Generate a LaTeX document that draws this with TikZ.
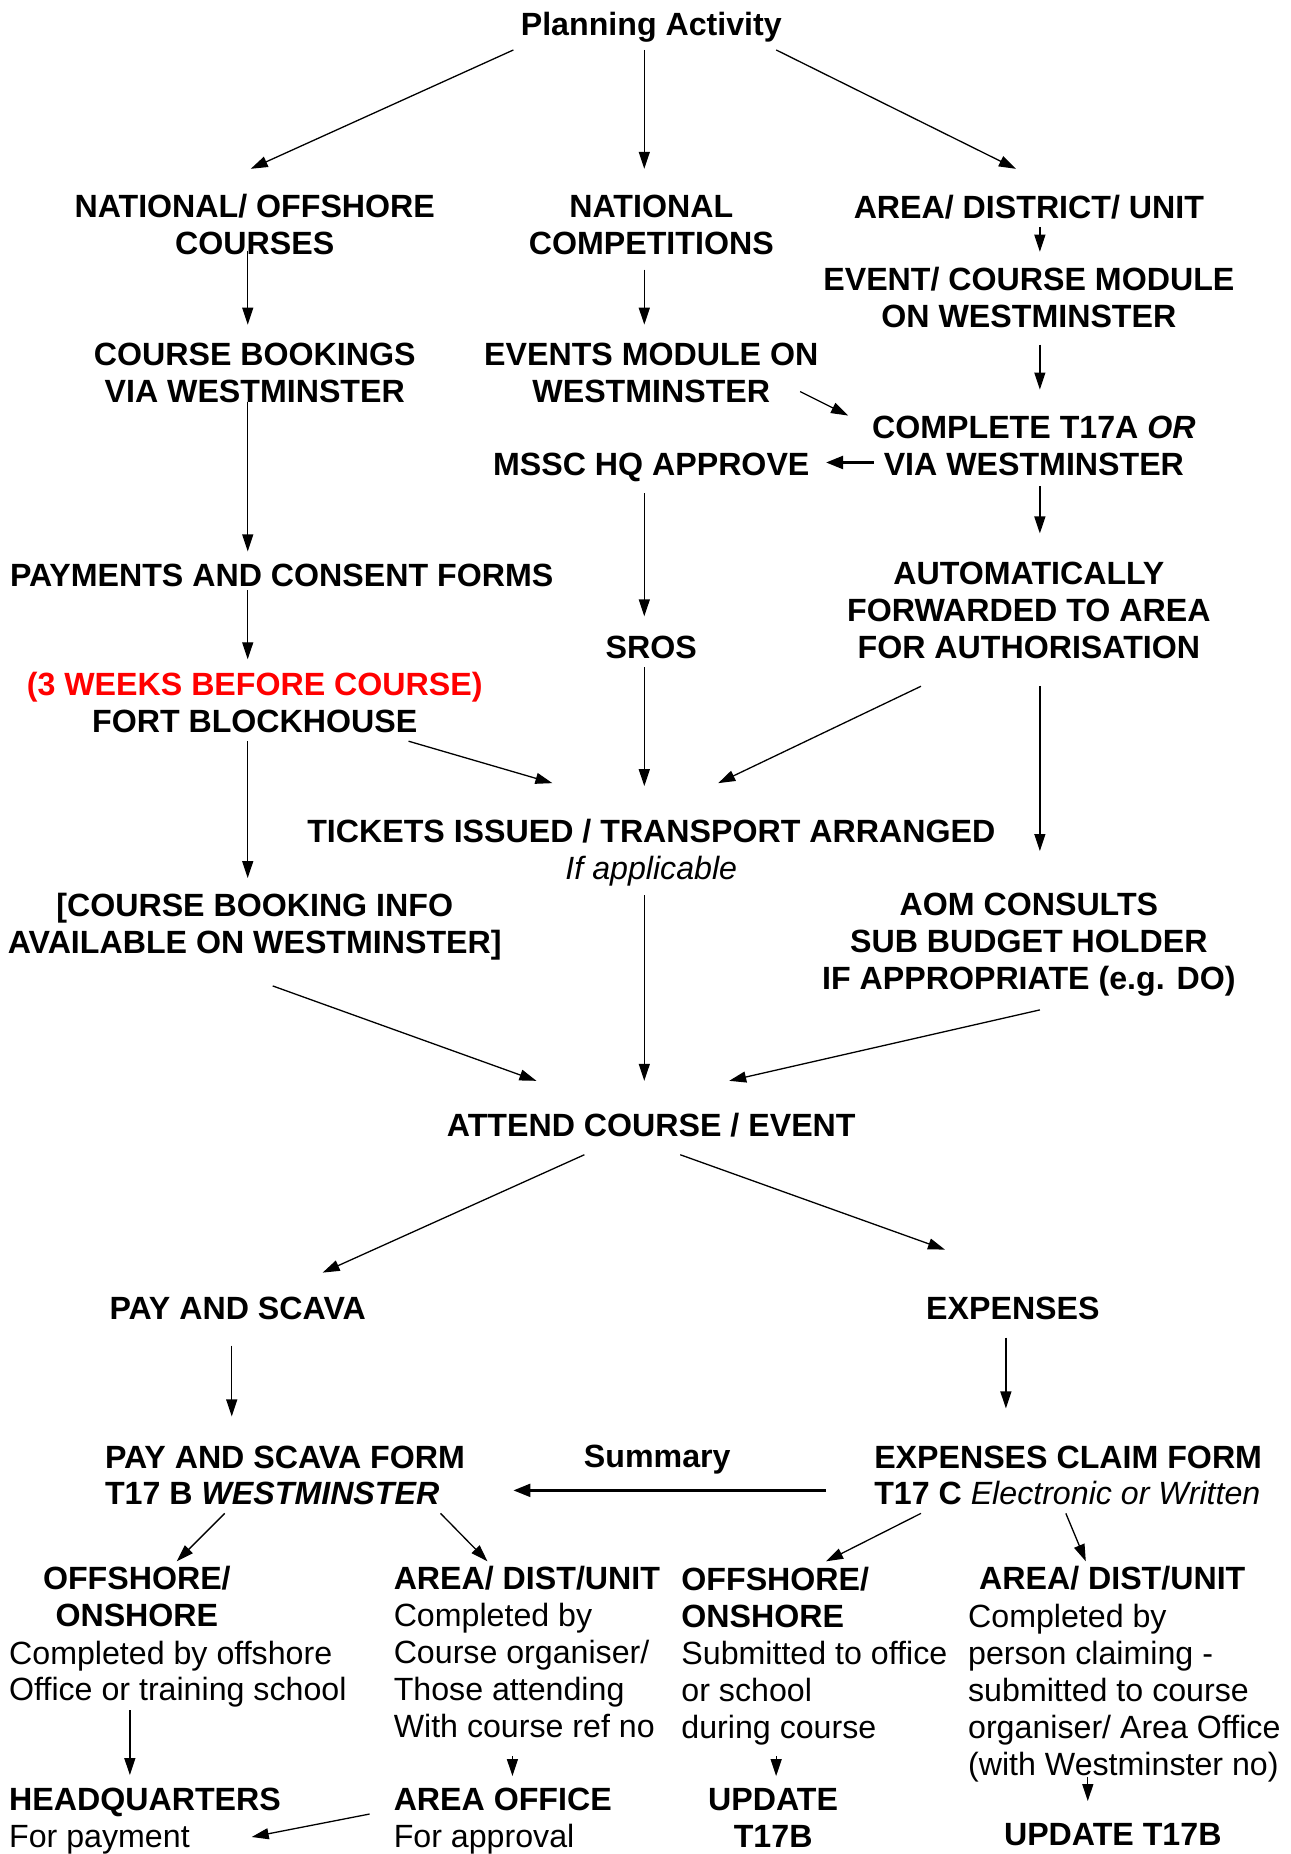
\documentclass[tikz,border=0pt]{standalone}
\usepackage{fontspec}
\setmainfont{Liberation Sans}
\usetikzlibrary{arrows.meta}
\tikzset{
  lbl/.style={font=\fontsize{32.2}{36.9}\selectfont\bfseries, inner sep=0pt, align=center},
  txt/.style={font=\fontsize{32.2}{36.9}\selectfont, inner sep=0pt, align=left, anchor=west},
  arr/.style={line width=1.3pt, -{Triangle[length=17pt,width=11pt]}},
  thk/.style={line width=2.4pt, -{Triangle[length=17pt,width=13pt]}}
}
\begin{document}
\begin{tikzpicture}[x=1pt,y=-1pt]
\fill[white] (0,0) rectangle (1292,1854);
% top part
\node[lbl] (plan) at (652,27) {Planning Activity};
\node[lbl] (natoff) at (255,225) {NATIONAL/ OFFSHORE\\COURSES};
\node[lbl] (natcomp) at (652,225) {NATIONAL\\COMPETITIONS};
\node[lbl] (area) at (1030,207) {AREA/ DISTRICT/ UNIT};
\node[lbl] (event) at (1030,298) {EVENT/ COURSE MODULE\\ON WESTMINSTER};
\node[lbl] (book) at (255,373) {COURSE BOOKINGS\\VIA WESTMINSTER};
\node[lbl] (evmod) at (652,373) {EVENTS MODULE ON\\WESTMINSTER};
\node[lbl] (t17a) at (1035,446) {COMPLETE T17A \textit{OR}\\VIA WESTMINSTER};
\node[lbl] (mssc) at (652,468) {MSSC HQ APPROVE};
\node[lbl] (pay) at (282,576) {PAYMENTS AND CONSENT FORMS};
\node[lbl] (auto) at (1030,611) {AUTOMATICALLY\\FORWARDED TO AREA\\FOR AUTHORISATION};
\node[lbl] (sros) at (652,648) {SROS};
\node[lbl] (fort) at (255,703) {\textcolor{red}{(3 WEEKS BEFORE COURSE)}\\FORT BLOCKHOUSE};
\node[lbl] (tick) at (652,854) {TICKETS ISSUED / TRANSPORT ARRANGED\\\textnormal{\itshape If applicable}};
\node[lbl] (info) at (255,928) {[COURSE BOOKING INFO\\AVAILABLE ON WESTMINSTER]};
\node[lbl] (aom) at (1030,946) {AOM CONSULTS\\SUB BUDGET HOLDER\\IF APPROPRIATE (e.g. DO)};
\node[lbl] (attend) at (652,1126) {ATTEND COURSE / EVENT};
% pay and expenses
\node[lbl] (scava) at (238,1310) {PAY AND SCAVA};
\node[lbl] (exp) at (1014,1310) {EXPENSES};
\node[lbl, align=left, anchor=west] (t17b) at (105,1477) {PAY AND SCAVA FORM\\T17 B \textit{WESTMINSTER}};
\node[lbl] (summ) at (658,1461) {Summary};
\node[lbl, align=left, anchor=west] (t17c) at (875,1477) {EXPENSES CLAIM FORM\\T17 C \textnormal{\itshape Electronic or Written}};
% bottom columns
\node[lbl] (offl) at (137,1598) {OFFSHORE/\\ONSHORE};
\node[txt] (offltx) at (9,1676) {Completed by offshore\\Office or training school};
\node[txt] (hq) at (9,1823) {\textbf{HEADQUARTERS}\\For payment};
\node[txt] (adu1) at (394,1654) {\textbf{AREA/ DIST/UNIT}\\Completed by\\Course organiser/\\Those attending\\With course ref no};
\node[txt] (aoff) at (394,1823) {\textbf{AREA OFFICE}\\For approval};
\node[txt] (offr) at (682,1658) {\textbf{OFFSHORE/}\\\textbf{ONSHORE}\\Submitted to office\\or school\\during course};
\node[lbl] (upd1) at (774,1820) {UPDATE\\T17B};
\node[lbl, anchor=west] (adu2) at (980,1580) {AREA/ DIST/UNIT};
\node[txt] (adu2tx) at (969,1695) {Completed by\\person claiming -\\submitted to course\\organiser/ Area Office\\(with Westminster no)};
\node[lbl] (upd2) at (1114,1837) {UPDATE T17B};
% arrows
\draw[arr] ([shift={(-138,23)}]plan.center) -- ([shift={(-4,-56)}]natoff.center);
\draw[arr] ([shift={(-7,23)}]plan.center) -- ([shift={(-7,-56)}]natcomp.center);
\draw[arr] ([shift={(125,23)}]plan.center) -- ([shift={(-13,-38)}]area.center);
\draw[arr] ([shift={(11,20)}]area.center) -- ([shift={(11,-46)}]event.center);
\draw[arr] ([shift={(-7,26)}]natoff.center) -- ([shift={(-7,-48)}]book.center);
\draw[arr] ([shift={(-7,45)}]natcomp.center) -- ([shift={(-7,-48)}]evmod.center);
\draw[arr] ([shift={(11,47)}]event.center) -- ([shift={(6,-56)}]t17a.center);
\draw[arr] ([shift={(149,19)}]evmod.center) -- ([shift={(-186,-30)}]t17a.center);
\draw[thk] ([shift={(-160,17)}]t17a.center) -- ([shift={(175,-5)}]mssc.center);
\draw[arr] ([shift={(-7,29)}]book.center) -- ([shift={(-34,-24)}]pay.center);
\draw[arr] ([shift={(6,41)}]t17a.center) -- ([shift={(11,-77)}]auto.center);
\draw[arr] ([shift={(-7,26)}]mssc.center) -- ([shift={(-7,-31)}]sros.center);
\draw[arr] ([shift={(-34,15)}]pay.center) -- ([shift={(-7,-43)}]fort.center);
\draw[arr] ([shift={(154,39)}]fort.center) -- ([shift={(-99,-70)}]tick.center);
\draw[arr] ([shift={(-7,20)}]sros.center) -- ([shift={(-7,-67)}]tick.center);
\draw[arr] ([shift={(-108,76)}]auto.center) -- ([shift={(67,-70)}]tick.center);
\draw[arr] ([shift={(11,76)}]auto.center) -- ([shift={(11,-94)}]aom.center);
\draw[arr] ([shift={(-7,39)}]fort.center) -- ([shift={(-7,-49)}]info.center);
\draw[arr] ([shift={(-7,42)}]tick.center) -- ([shift={(-7,-44)}]attend.center);
\draw[arr] ([shift={(18,59)}]info.center) -- ([shift={(-115,-44)}]attend.center);
\draw[arr] ([shift={(11,65)}]aom.center) -- ([shift={(78,-44)}]attend.center);
\draw[arr] ([shift={(-67,30)}]attend.center) -- ([shift={(85,-36)}]scava.center);
\draw[arr] ([shift={(29,30)}]attend.center) -- ([shift={(-68,-59)}]exp.center);
\draw[arr] ([shift={(-6,37)}]scava.center) -- ([shift={(127,-59)}]t17b.west);
\draw[arr] ([shift={(-7,29)}]exp.center) -- ([shift={(132,-67)}]t17c.west);
\draw[thk] ([shift={(-48,15)}]t17c.west) -- ([shift={(409,15)}]t17b.west);
\draw[arr] ([shift={(120,38)}]t17b.west) -- ([shift={(40,-35)}]offl.center);
\draw[arr] ([shift={(336,38)}]t17b.west) -- ([shift={(94,-91)}]adu1.west);
\draw[arr] ([shift={(47,38)}]t17c.west) -- ([shift={(145,-95)}]offr.west);
\draw[arr] ([shift={(192,38)}]t17c.west) -- ([shift={(107,-17)}]adu2.west);
\draw[arr] ([shift={(121,36)}]offltx.west) -- ([shift={(121,-46)}]hq.west);
\draw[arr] ([shift={(119,104)}]adu1.west) -- ([shift={(119,-45)}]aoff.west);
\draw[arr] ([shift={(-24,-7)}]aoff.west) -- ([shift={(243,16)}]hq.west);
\draw[arr] ([shift={(95,100)}]offr.west) -- ([shift={(3,-42)}]upd1.center);
\draw[arr] ([shift={(120,84)}]adu2tx.west) -- ([shift={(-25,-34)}]upd2.center);
\end{tikzpicture}
\end{document}
